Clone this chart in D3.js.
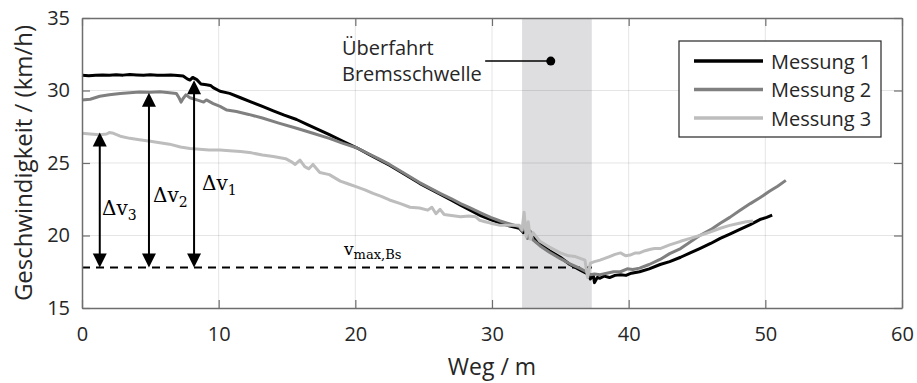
<!DOCTYPE html>
<html>
<head>
<meta charset="utf-8">
<script src="https://cdn.jsdelivr.net/npm/d3@7"></script>
<style>
  html, body { margin: 0; padding: 0; background: #fff; }
  svg { display: block; }
  text { font-family: "Open Sans", "Liberation Sans", sans-serif; fill: #262626; }
  .math { font-family: "DejaVu Serif", "Liberation Serif", serif; fill: #000; }
</style>
</head>
<body>
<svg id="chart" width="917" height="383"></svg>
<script>
// Geschwindigkeitsverlauf bei Überfahrt einer Bremsschwelle – drei Messfahrten
const xTicks = [0, 10, 20, 30, 40, 50, 60];
const yTicks = [15, 20, 25, 30, 35];
const seriesNames = ["Messung 1", "Messung 2", "Messung 3"];
const seriesColors = ["#000000", "#808080", "#bdbdbd"];

// [Weg in m, Geschwindigkeit in km/h]
const messung1 = [[0,31.05],[0.5,31.02],[1.0,31.05],[1.5,31.07],[2.0,31.05],[2.5,31.08],[3.0,31.06],[3.5,31.1],[4.0,31.07],[4.5,31.05],[5.0,31.08],[5.5,31.06],[6.0,31.05],[6.5,31.07],[7.0,31.04],[7.4,31.0],[7.7,30.8],[7.9,30.72],[8.1,30.9],[8.4,30.75],[8.7,30.45],[9.1,30.4],[9.4,30.35],[9.6,30.2],[10.1,29.95],[10.8,29.8],[11.6,29.5],[12.4,29.2],[13.2,28.9],[14.0,28.6],[14.8,28.3],[15.7,28.0],[16.5,27.65],[17.3,27.3],[18.1,26.95],[19.1,26.5],[20.1,26.05],[21.0,25.6],[21.8,25.2],[22.5,24.85],[23.3,24.4],[24.0,24.0],[24.7,23.6],[25.5,23.2],[26.2,22.85],[27.0,22.45],[27.7,22.1],[28.4,21.75],[29.2,21.35],[29.9,21.1],[30.6,20.85],[31.3,20.65],[32.0,20.5],[32.3,20.2],[32.5,20.6],[32.7,19.9],[32.9,20.1],[33.2,19.7],[33.5,19.45],[34.2,18.95],[35.0,18.5],[35.7,18.0],[36.5,17.6],[37.0,17.35],[37.2,17.0],[37.4,17.3],[37.5,16.75],[37.7,17.1],[37.9,17.05],[38.2,17.2],[38.6,17.1],[39.0,17.25],[39.4,17.3],[39.8,17.25],[40.2,17.4],[40.8,17.5],[41.5,17.7],[42.3,18.0],[43.0,18.2],[43.8,18.5],[44.5,18.8],[45.2,19.1],[46.0,19.45],[46.7,19.8],[47.4,20.1],[48.1,20.4],[48.9,20.75],[49.6,21.1],[50.1,21.25],[50.5,21.4]];

const messung2 = [[0,29.35],[0.6,29.4],[1.3,29.6],[2.0,29.7],[2.8,29.8],[3.5,29.85],[4.2,29.9],[5.0,29.88],[5.7,29.92],[6.4,29.85],[6.9,29.8],[7.1,29.5],[7.25,29.2],[7.4,29.45],[7.6,29.7],[7.9,29.5],[8.4,29.35],[8.9,29.2],[9.1,29.35],[9.4,29.2],[9.6,29.1],[10.1,28.9],[10.6,28.65],[11.3,28.55],[12.2,28.35],[13.2,28.1],[14.4,27.75],[15.7,27.4],[16.9,27.05],[18.1,26.7],[19.1,26.35],[20.1,26.05],[21.0,25.62],[21.8,25.25],[22.5,24.9],[23.3,24.45],[24.0,24.05],[24.7,23.65],[25.5,23.25],[26.2,22.9],[27.0,22.55],[27.7,22.2],[28.4,21.9],[29.2,21.55],[29.9,21.25],[30.6,21.0],[31.3,20.8],[32.0,20.6],[32.2,20.3],[32.4,20.9],[32.6,19.8],[32.8,20.3],[33.0,19.7],[33.5,19.3],[34.2,18.85],[35.0,18.4],[35.7,18.05],[36.4,17.75],[37.0,17.45],[37.2,17.3],[37.5,17.35],[37.9,17.3],[38.4,17.4],[38.9,17.5],[39.4,17.5],[39.9,17.7],[40.3,17.65],[40.8,17.75],[41.5,18.0],[42.3,18.35],[43.0,18.75],[43.8,19.1],[44.5,19.55],[45.2,20.0],[46.0,20.4],[46.7,20.85],[47.4,21.25],[48.1,21.7],[48.9,22.2],[49.6,22.6],[50.3,23.05],[50.9,23.4],[51.5,23.8]];

const messung3 = [[0,27.05],[0.6,27.0],[1.3,26.95],[1.8,27.0],[2.0,27.1],[2.3,27.05],[2.8,26.85],[3.5,26.7],[4.2,26.6],[5.0,26.5],[5.7,26.4],[6.4,26.3],[7.2,26.1],[7.9,26.0],[8.6,25.95],[9.3,25.9],[10.1,25.9],[10.8,25.85],[11.6,25.8],[12.4,25.7],[13.2,25.55],[14.0,25.45],[14.9,25.3],[15.3,25.1],[15.6,24.9],[15.95,25.2],[16.3,24.75],[16.6,24.6],[16.9,24.9],[17.4,24.35],[18.1,24.2],[18.9,23.75],[19.5,23.55],[20.1,23.35],[20.7,23.15],[21.3,22.9],[21.9,22.7],[22.5,22.45],[23.3,22.2],[24.0,21.95],[24.7,21.9],[25.3,21.75],[25.6,21.95],[25.9,21.5],[26.2,21.8],[26.5,21.45],[26.9,21.4],[27.7,21.3],[28.3,21.35],[28.8,21.3],[29.1,21.05],[29.5,20.95],[29.9,20.85],[30.6,20.7],[31.3,20.7],[32.0,20.7],[32.2,20.4],[32.35,21.6],[32.5,19.9],[32.65,20.95],[32.8,19.75],[33.0,20.2],[33.5,19.6],[34.2,19.2],[35.0,18.8],[35.6,18.6],[36.1,18.55],[36.5,18.4],[36.8,18.3],[37.0,17.1],[37.2,18.1],[37.5,18.2],[37.9,18.3],[38.2,18.4],[38.6,18.55],[39.0,18.7],[39.4,18.8],[39.8,18.6],[40.1,18.65],[40.5,18.8],[40.8,18.8],[41.2,18.95],[41.6,19.05],[41.9,19.1],[42.3,19.1],[43.0,19.35],[43.8,19.6],[44.5,19.8],[45.2,20.0],[46.0,20.25],[46.7,20.5],[47.4,20.7],[48.1,20.85],[48.6,20.95],[49.1,21.0]];

// Bereich der Bremsschwelle, zulässige Geschwindigkeit und Differenzpfeile
const schwelleBereich = [32.2, 37.3];
const vMaxBs = 17.8;
const deltaX = [8.2, 4.9, 1.3];
const deltaTop = [30.7, 29.85, 27.1];
const deltaLabels = ["1", "2", "3"];
const annotDot = [34.3, 32.03];
const annotLineStart = 29.5;

const svg = d3.select("#chart");
const margin = { left: 82, right: 902, top: 18, bottom: 308 };
const x = d3.scaleLinear().domain([0, 60]).range([margin.left, margin.right]);
const y = d3.scaleLinear().domain([15, 35]).range([margin.bottom, margin.top]);

svg.append("rect").attr("width", 917).attr("height", 383).attr("fill", "#fff");

// Schattierter Bereich der Bremsschwelle
svg.append("rect")
  .attr("x", x(schwelleBereich[0])).attr("y", y(35))
  .attr("width", x(schwelleBereich[1]) - x(schwelleBereich[0]))
  .attr("height", y(15) - y(35))
  .attr("fill", "#dedde0");

// Gitterlinien
const grid = svg.append("g").attr("stroke", "#262626").attr("stroke-opacity", 0.12).attr("stroke-width", 1);
grid.selectAll("line.gx").data(xTicks.slice(1, -1)).join("line")
  .attr("x1", d => x(d)).attr("x2", d => x(d)).attr("y1", y(35)).attr("y2", y(15));
grid.selectAll("line.gy").data(yTicks.slice(1, -1)).join("line")
  .attr("y1", d => y(d)).attr("y2", d => y(d)).attr("x1", x(0)).attr("x2", x(60));

// Grenzgeschwindigkeit (gestrichelt)
svg.append("line")
  .attr("x1", x(0)).attr("x2", x(schwelleBereich[1]))
  .attr("y1", y(vMaxBs)).attr("y2", y(vMaxBs))
  .attr("stroke", "#000").attr("stroke-width", 2).attr("stroke-dasharray", "8,6");

// Messkurven
const line = d3.line().x(d => x(d[0])).y(d => y(d[1]));
[messung1, messung2, messung3].forEach((data, i) => {
  svg.append("path").datum(data)
    .attr("fill", "none")
    .attr("stroke", seriesColors[i])
    .attr("stroke-width", 3)
    .attr("stroke-linejoin", "round")
    .attr("d", line);
});

// Achsen mit nach innen gerichteten Ticks
function styleAxis(g) {
  g.selectAll("path").attr("stroke", "#6e6e6e").attr("stroke-width", 1.5);
  g.selectAll("line").attr("stroke", "#6e6e6e").attr("stroke-width", 1.2);
  g.selectAll("text").attr("fill", "#262626").style("font-size", "20px")
    .style("font-family", '"Open Sans", "Liberation Sans", sans-serif');
}
svg.append("g").attr("transform", `translate(0,${y(15)})`)
  .call(d3.axisBottom(x).tickValues(xTicks).tickSize(-8).tickSizeOuter(0).tickPadding(19).tickFormat(d3.format("d")))
  .call(styleAxis);
svg.append("g").attr("transform", `translate(0,${y(35)})`)
  .call(d3.axisTop(x).tickValues(xTicks).tickSize(-8).tickSizeOuter(0).tickFormat(""))
  .call(styleAxis);
svg.append("g").attr("transform", `translate(${x(0)},0)`)
  .call(d3.axisLeft(y).tickValues(yTicks).tickSize(-8).tickSizeOuter(0).tickPadding(12).tickFormat(d3.format("d")))
  .call(styleAxis);
svg.append("g").attr("transform", `translate(${x(60)},0)`)
  .call(d3.axisRight(y).tickValues(yTicks).tickSize(-8).tickSizeOuter(0).tickFormat(""))
  .call(styleAxis);

// Achsentitel
svg.append("text").attr("x", 492).attr("y", 375).attr("text-anchor", "middle")
  .style("font-size", "23px").text("Weg / m");
svg.append("text").attr("transform", `translate(32,${(y(35) + y(15)) / 2}) rotate(-90)`)
  .attr("text-anchor", "middle").style("font-size", "24px").text("Geschwindigkeit / (km/h)");

// Differenzpfeile Δv
const head = 7, headLen = 14;
deltaX.forEach((dx, i) => {
  const px = x(dx), yt = y(deltaTop[i]), yb = y(vMaxBs);
  svg.append("line").attr("x1", px).attr("x2", px).attr("y1", yt + headLen - 2).attr("y2", yb - headLen + 2)
    .attr("stroke", "#000").attr("stroke-width", 2);
  svg.append("path").attr("d", `M${px},${yt} L${px - head},${yt + headLen} L${px + head},${yt + headLen} Z`).attr("fill", "#000");
  svg.append("path").attr("d", `M${px},${yb} L${px - head},${yb - headLen} L${px + head},${yb - headLen} Z`).attr("fill", "#000");
});
const deltaLabelPos = [[202, 190], [153, 202], [102, 215]];
deltaLabels.forEach((s, i) => {
  const t = svg.append("text").attr("class", "math").attr("x", deltaLabelPos[i][0]).attr("y", deltaLabelPos[i][1])
    .style("font-size", "20px");
  t.append("tspan").text("Δv");
  t.append("tspan").attr("dy", 5).style("font-size", "14px").text(s);
});

// Beschriftung v_max,Bs
const vt = svg.append("text").attr("class", "math").attr("x", 344).attr("y", 255).style("font-size", "17px");
vt.append("tspan").text("v");
vt.append("tspan").attr("dy", 4).style("font-size", "13px").text("max,Bs");

// Anmerkung Überfahrt Bremsschwelle
svg.append("text").attr("x", 342).attr("y", 55).style("font-size", "20px").text("Überfahrt");
svg.append("text").attr("x", 342).attr("y", 81).style("font-size", "20px").text("Bremsschwelle");
svg.append("line").attr("x1", x(annotLineStart)).attr("x2", x(annotDot[0]))
  .attr("y1", y(annotDot[1])).attr("y2", y(annotDot[1])).attr("stroke", "#000").attr("stroke-width", 1.5);
svg.append("circle").attr("cx", x(annotDot[0])).attr("cy", y(annotDot[1])).attr("r", 4.5).attr("fill", "#000");

// Legende
const legend = svg.append("g");
legend.append("rect").attr("x", 679).attr("y", 41).attr("width", 202).attr("height", 96)
  .attr("fill", "#fff").attr("stroke", "#262626").attr("stroke-width", 1.2);
seriesNames.forEach((name, i) => {
  const ly = 61 + i * 28.5;
  legend.append("line").attr("x1", 694).attr("x2", 763).attr("y1", ly).attr("y2", ly)
    .attr("stroke", seriesColors[i]).attr("stroke-width", 3.5);
  legend.append("text").attr("x", 771).attr("y", ly + 7.5).style("font-size", "20px").text(name);
});
</script>
</body>
</html>
